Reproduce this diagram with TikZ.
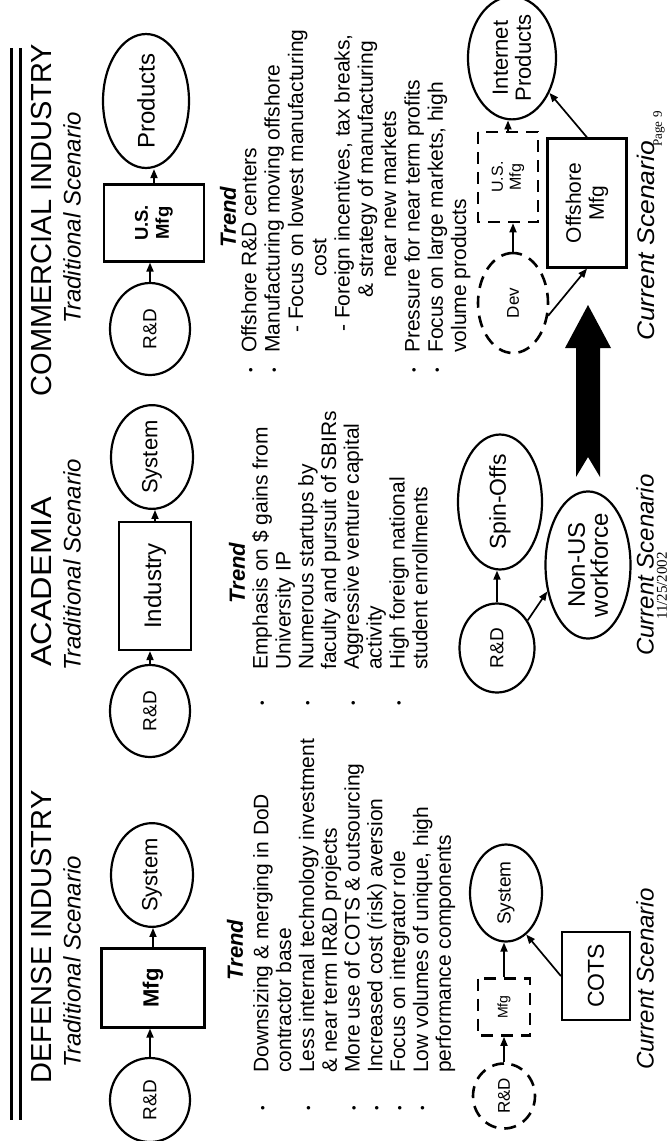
\documentclass[tikz,border=0pt]{standalone}
\usepackage{fontspec}
\usepackage{graphicx}
\setmainfont{Liberation Sans}
\newfontfamily\serifft{Liberation Serif}
\usetikzlibrary{shapes.geometric,arrows.meta}
\newcommand\tb[1]{\makebox[0pt][r]{\raisebox{1.2pt}{\fontsize{13}{13}\selectfont\textbullet}\hspace{#1}}}
\begin{document}
\begin{tikzpicture}[x=1pt,y=-1pt,
  every node/.style={rotate=90, inner sep=0pt, text=black},
  hdtitle/.style={font=\fontsize{29}{32}\selectfont},
  scen/.style={font=\fontsize{24}{26}\selectfont\itshape},
  trendhd/.style={font=\fontsize{22}{24}\selectfont\bfseries\itshape},
  trendtxt/.style={font=\fontsize{21}{22.8}\selectfont, align=left, anchor=north west},
  lab/.style 2 args={font=\fontsize{#1}{#2}\selectfont},
  oval/.style={ellipse, draw, line width=2.2pt, align=center},
  sbox/.style={rectangle, draw, line width=2.2pt, align=center},
  dshape/.style={draw, line width=2.6pt, dash pattern=on 12pt off 8pt, align=center},
  arr/.style={line width=1.7pt, -{Triangle[length=9pt,width=7pt]}},
  foot/.style={font=\serifft\fontsize{#1}{#1}\selectfont}
]
\fill[white] (0,0) rectangle (671,1141);
\useasboundingbox (0,0) rectangle (671,1141);

% double rule
\draw[line width=3pt] (11,48) -- (11,1120);
\draw[line width=3pt] (20,48) -- (20,1120);

% titles
\node[hdtitle] (tdef) at (42,937) {DEFENSE INDUSTRY};
\node[hdtitle] (taca) at (42,582) {\scalebox{1.12}[1]{ACADEMIA}};
\node[hdtitle] (tcom) at (42,220) {COMMERCIAL INDUSTRY};
\node[scen] (sdef) at (72,962) {Traditional Scenario};
\node[scen] (saca) at (72,565) {Traditional Scenario};
\node[scen] (scom) at (72,218) {Traditional Scenario};

% traditional: defense
\node[oval, minimum width=84pt, minimum height=80pt, lab={19}{21}] (drd) at (150,1100) {R\&D};
\node[sbox, minimum width=79pt, minimum height=103pt, font=\fontsize{22}{24}\selectfont\bfseries] (dmfg) at (153,988) {Mfg};
\node[oval, minimum width=95pt, minimum height=82pt, lab={22}{24}] (dsys) at (152,875) {System};
\draw[arr] (drd.east) -- (drd.east |- dmfg.west);
\draw[arr] (dmfg.east) -- (dmfg.east |- dsys.west);

% traditional: academia
\node[oval, minimum width=92pt, minimum height=80pt, lab={19}{21}] (ard) at (150,711) {R\&D};
\node[sbox, minimum width=128pt, minimum height=72pt, lab={24}{26}] (aind) at (155,586) {Industry};
\node[oval, minimum width=93pt, minimum height=82pt, lab={22}{24}] (asys) at (152,457) {System};
\draw[arr] (ard.east) -- (ard.east |- aind.west);
\draw[arr] (aind.east) -- (aind.east |- asys.west);

% traditional: commercial
\node[oval, minimum width=92pt, minimum height=80pt, lab={19}{21}] (crd) at (150,329) {R\&D};
\node[sbox, minimum width=77pt, minimum height=100pt, font=\fontsize{18.5}{21}\selectfont\bfseries] (cmfg) at (154,223) {U.S.\\Mfg};
\node[oval, minimum width=112pt, minimum height=86pt, lab={24}{26}] (cprod) at (146,101) {Products};
\draw[arr] (crd.east) -- (crd.east |- cmfg.west);
\draw[arr] (cmfg.east) -- (cmfg.east |- cprod.west);

% trends
\node[trendhd] (hdef) at (235,950) {Trend};
\node[trendhd] (haca) at (237,573) {Trend};
\node[trendhd] (hcom) at (228,217) {Trend};

\node[trendtxt] (trdef) at (253,1073) {\tb{32.7pt}Downsizing \& merging in DoD\\
contractor base\\
\tb{32.7pt}Less internal technology investment\\
\& near term IR\&D projects\\
\tb{32.7pt}More use of COTS \& outsourcing\\
\tb{32.7pt}Increased cost (risk) aversion\\
\tb{32.7pt}Focus on integrator role\\
\tb{32.7pt}Low volumes of unique, high\\
performance components};

\node[trendtxt] (traca) at (252,670) {\tb{30.7pt}Emphasis on \$ gains from\\
University IP\\
\tb{30.7pt}Numerous startups by\\
faculty and pursuit of SBIRs\\
\tb{30.7pt}Aggressive venture capital\\
activity\\
\tb{30.7pt}High foreign national\\
student enrollments};

\node[trendtxt, font=\fontsize{21}{23.3}\selectfont] (trcom) at (241,353) {\tb{14.7pt}Offshore R\&D centers\\
\tb{14.7pt}Manufacturing moving offshore\\
\hspace*{20pt}- Focus on lowest manufacturing\\
\hspace*{76pt}cost\\
\hspace*{21pt}- Foreign incentives, tax breaks,\\
\hspace*{55pt}\& strategy of manufacturing\\
\hspace*{75pt}near new markets\\
\tb{14.7pt}Pressure for near term profits\\
\tb{14.7pt}Focus on large markets, high\\
volume products};

% current: defense
\node[oval, dshape, minimum width=65pt, minimum height=62pt, lab={17}{19}] (cdrd) at (504,1096) {R\&D};
\node[rectangle, dshape, minimum width=57pt, minimum height=52pt, lab={14}{16}] (cdmfg) at (504,1007) {Mfg};
\node[oval, minimum width=97pt, minimum height=72pt, lab={19}{21}] (cdsys) at (506,893) {System};
\node[sbox, minimum width=88pt, minimum height=68pt, lab={23}{25}] (cots) at (596,976) {COTS};
\draw[arr] (cdrd.east) -- (cdrd.east |- cdmfg.west);
\draw[arr] (cdmfg.east) -- (cdmfg.east |- cdsys.west);
\draw[arr] (cots.north) -- (cdsys.206);
\node[scen] (cdef) at (645,979) {Current Scenario};

% current: academia
\node[oval, minimum width=89pt, minimum height=75pt, lab={19}{21}] (c2rd) at (497,648) {R\&D};
\node[oval, minimum width=129pt, minimum height=84pt, lab={23}{25}] (spin) at (500,502) {Spin-Offs};
\node[oval, minimum width=125pt, minimum height=85pt, lab={24}{23}] (nonus) at (588,565) {Non-US\\workforce};
\draw[arr] (c2rd.east) -- (c2rd.east |- spin.west);
\draw[arr] (c2rd.312) -- (nonus.123);
\node[scen] (caca) at (645,565) {Current Scenario};
\node[foot=15] (date) at (662,586) {11/25/2002};

% current: commercial
\node[oval, dshape, minimum width=100pt, minimum height=70pt, lab={17}{19}] (dev) at (513,303) {Dev};
\node[rectangle, dshape, minimum width=90pt, minimum height=60pt, lab={16}{18}] (usm) at (508,177) {U.S.\\Mfg};
\node[oval, minimum width=107pt, minimum height=88pt, lab={22}{23}] (inet) at (512,58) {Internet\\Products};
\node[sbox, minimum width=129pt, minimum height=79pt, lab={21}{23}] (off) at (587,203) {Offshore\\Mfg};
\draw[arr] (dev.east) -- (dev.east |- usm.west);
\draw[arr] (usm.east) -- (usm.east |- inet.west);
\draw[arr] (dev.250) -- (off.west);
\draw[arr] (off.east) -- (inet.227);
\node[scen] (ccom) at (646,241) {\scalebox{1.1}[1]{Current Scenario}};
\node[foot=13] (page) at (659,129) {Page 9};

% big transition arrow
\fill (588,305) -- (611,348) -- (600,348) -- (600,477) -- (588,457) -- (576,477) -- (576,348) -- (565,348) -- cycle;
\end{tikzpicture}
\end{document}
